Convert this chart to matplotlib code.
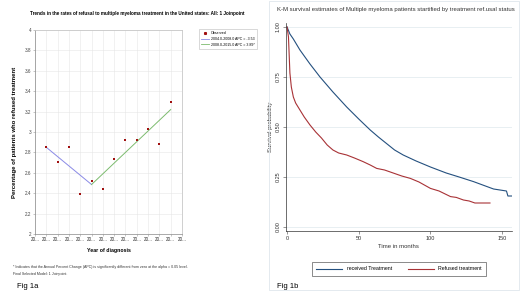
import numpy as np
import matplotlib.pyplot as plt
from matplotlib.patches import Rectangle
from matplotlib.lines import Line2D

W, H = 520, 293

# --- Fig 1a data (joinpoint trend) ---
years = [2004, 2005, 2006, 2007, 2008, 2009, 2010, 2011, 2012, 2013, 2014, 2015]
observed = [2.85, 2.71, 2.85, 2.39, 2.52, 2.44, 2.74, 2.92, 2.92, 3.03, 2.88, 3.29]
seg1_x = [2004, 2008]
seg1_y = [2.85, 2.485]
seg2_x = [2008, 2015]
seg2_y = [2.485, 3.22]
tick_years = list(range(2003, 2017))
tick_labels = ['20...'] * len(tick_years)

# --- Fig 1b data (K-M curves) ---
t_recv = [0, 2, 4.4, 9, 16, 23, 32, 41.6, 50, 58, 63.7, 75, 81, 90, 100,
          111, 120, 130, 144, 153, 154, 157]
s_recv = [1.0, 0.965, 0.94, 0.885, 0.815, 0.75, 0.675, 0.60, 0.54, 0.485,
          0.45, 0.385, 0.36, 0.33, 0.30, 0.27, 0.25, 0.227, 0.19, 0.18,
          0.155, 0.155]
t_ref = [0, 1, 2, 3, 4.4, 6, 9, 12, 16, 20, 24, 28, 32, 36, 41.6, 47, 53,
         58, 62.5, 68, 74, 80, 86, 92, 100, 106, 114, 118, 123, 127, 131,
         136, 141.5]
s_ref = [1.0, 0.95, 0.77, 0.70, 0.65, 0.62, 0.585, 0.55, 0.51, 0.475, 0.445,
         0.41, 0.385, 0.37, 0.36, 0.345, 0.327, 0.31, 0.293, 0.285, 0.27,
         0.255, 0.243, 0.225, 0.193, 0.18, 0.152, 0.148, 0.135, 0.13, 0.12,
         0.12, 0.12]

narrow = ['Liberation Sans Narrow', 'Liberation Sans', 'DejaVu Sans']
plt.rcParams['font.family'] = ['Liberation Sans', 'DejaVu Sans']


def box(l, t, r, b):
    return [l / W, 1 - b / H, (r - l) / W, (b - t) / H]


fig = plt.figure(figsize=(W / 100, H / 100), dpi=100)
fig.patch.set_facecolor('white')

# ---------------- Fig 1a ----------------
ax1 = fig.add_axes(box(35, 30, 182, 234))
ax1.scatter(years, observed, s=3, color='#a01010', marker='s', zorder=3, linewidths=0)
ax1.plot(seg1_x, seg1_y, color='#8a8ae6', lw=0.7)
ax1.plot(seg2_x, seg2_y, color='#7cbb6e', lw=0.7)
ax1.set_xlim(2003, 2016)
ax1.set_ylim(2, 4)
ax1.set_xticks(tick_years)
ax1.set_xticklabels(tick_labels, fontsize=3.3, color='#333333')
ax1.set_yticks([2, 2.2, 2.4, 2.6, 2.8, 3, 3.2, 3.4, 3.6, 3.8, 4])
ax1.set_yticklabels(['2', '2.2', '2.4', '2.6', '2.8', '3', '3.2', '3.4', '3.6', '3.8', '4'],
                    fontsize=3.3, color='#444444')
ax1.tick_params(length=1.5, width=0.4, pad=1, color='#999999')
ax1.grid(True, color='#e6e6e6', lw=0.4)
ax1.set_axisbelow(True)
for side in ['top', 'right']:
    ax1.spines[side].set_color('#c8c8c8')
    ax1.spines[side].set_linewidth(0.6)
for side in ['left', 'bottom']:
    ax1.spines[side].set_color('#888888')
    ax1.spines[side].set_linewidth(0.5)
ax1.set_xlabel('Year of diagnosis', fontsize=3.8, fontweight='bold', labelpad=4)
ax1.set_ylabel('Percentage of patients who refused treatment', fontsize=4.3,
               fontweight='bold', labelpad=6)
fig.text(137 / W, 1 - 13 / H,
         'Trends in the rates of refusal to multiple myeloma treatment in the United states: All: 1 Joinpoint',
         fontsize=3.3, fontweight='bold', ha='center', va='center')

handles = [
    Line2D([], [], marker='s', ls='none', color='#a01010', markersize=1.2),
    Line2D([], [], color='#8a8ae6', lw=0.6),
    Line2D([], [], color='#7cbb6e', lw=0.6),
]
leg1 = fig.legend(handles, ['Observed', '2004.0-2008.0 APC = -3.53', '2008.0-2015.0 APC = 3.89*'],
                  loc='upper left', bbox_to_anchor=(197 / W, 1 - 27 / H), fontsize=2.6,
                  frameon=True, fancybox=False, handlelength=2.2, handletextpad=0.6,
                  borderpad=0.6, labelspacing=0.5, edgecolor='#bbbbbb')
leg1.get_frame().set_linewidth(0.5)

fig.text(13 / W, 1 - 267 / H,
         '* Indicates that the Annual Percent Change (APC) is significantly different from zero at the alpha = 0.05 level.',
         fontsize=2.6, va='center', color='#333333')
fig.text(13 / W, 1 - 274 / H, 'Final Selected Model: 1 Joinpoint.',
         fontsize=2.6, va='center', color='#333333')
fig.text(17 / W, 1 - 286 / H, 'Fig 1a', fontsize=5.5, va='center')

# ---------------- Fig 1b ----------------
fig.patches.append(Rectangle((269 / W, 1 - 290 / H), 250 / W, 289 / H,
                             transform=fig.transFigure, fill=False,
                             edgecolor='#dfe6ec', lw=0.6))

ax2 = fig.add_axes(box(285.6, 23, 512.2, 231))
ax2.plot(t_recv, s_recv, color='#24507f', lw=0.8)
ax2.plot(t_ref, s_ref, color='#a83236', lw=0.8)
ax2.set_xlim(-1, 157)
ax2.set_ylim(-0.02, 1.02)
ax2.set_xticks([0, 50, 100, 150])
ax2.set_yticks([0, 0.25, 0.5, 0.75, 1.0])
ax2.set_yticklabels(['0.00', '0.25', '0.50', '0.75', '1.00'], rotation=90, va='center',
                    family=narrow, fontsize=4)
ax2.set_xticklabels(['0', '50', '100', '150'], family=narrow, fontsize=4)
ax2.tick_params(length=2, width=0.4, pad=1.5, color='#444444')
for lbl in ax2.get_xticklabels() + ax2.get_yticklabels():
    lbl.set_color('#333333')
ax2.yaxis.grid(True, color='#e4ecf0', lw=0.6)
ax2.set_axisbelow(True)
ax2.spines['top'].set_visible(False)
ax2.spines['right'].set_visible(False)
for side in ['left', 'bottom']:
    ax2.spines[side].set_color('#333333')
    ax2.spines[side].set_linewidth(0.5)
ax2.set_xlabel('Time in months', family=narrow, fontsize=4.3, labelpad=2, color='#333333')
ax2.set_ylabel('Survival probability', family=narrow, fontsize=4.3, labelpad=2, color='#333333')
fig.text(395.5 / W, 1 - 10 / H,
         'K-M survival estimates of Multiple myeloma patients startified by treatment ref.usal status',
         family=narrow, fontsize=4.35, ha='center', va='center', color='#333333')

handles2 = [Line2D([], [], color='#24507f', lw=0.8), Line2D([], [], color='#a83236', lw=0.8)]
leg2 = fig.legend(handles2, ['received Treatment', 'Refused treatment'],
                  loc='center', bbox_to_anchor=(399 / W, 1 - 269 / H), ncol=2,
                  prop={'family': narrow, 'size': 3.8}, frameon=True, fancybox=False,
                  handlelength=5, columnspacing=3, borderpad=0.8, edgecolor='#333333')
leg2.get_frame().set_linewidth(0.5)
fig.text(277 / W, 1 - 286 / H, 'Fig 1b', fontsize=5.5, va='center')

fig.savefig('out.png', dpi=100)
